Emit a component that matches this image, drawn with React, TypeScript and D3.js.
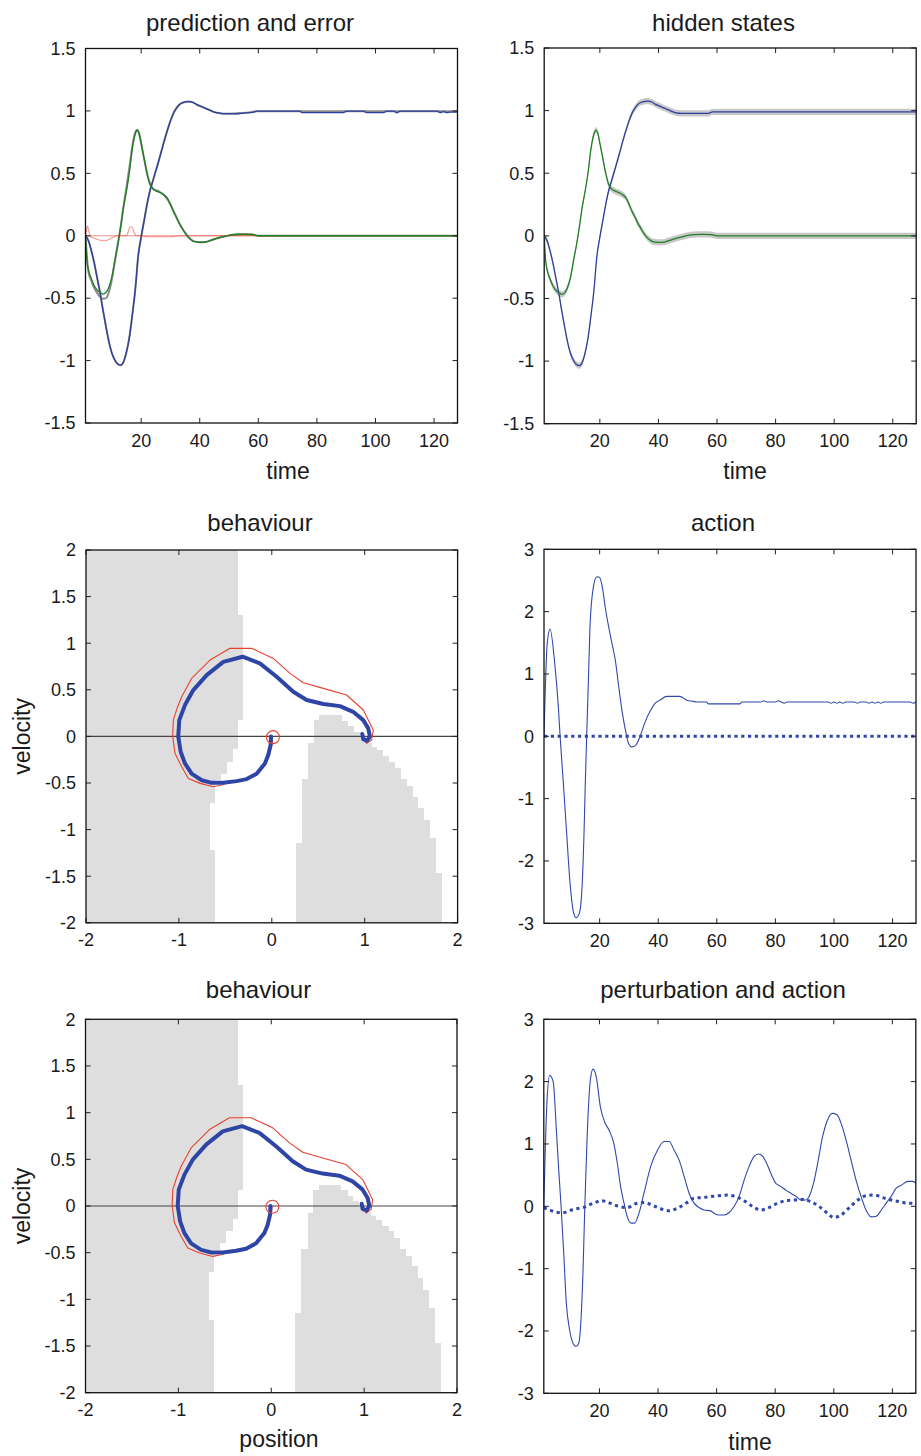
import React from 'react';
import * as d3 from 'd3';

type P = [number, number];

// ---------- tick values ----------
const timeTicks = [20, 40, 60, 80, 100, 120];
const stateTicks = [-1.5, -1, -0.5, 0, 0.5, 1, 1.5];
const actionTicks = [-3, -2, -1, 0, 1, 2, 3];
const phaseXTicks = [-2, -1, 0, 1, 2];
const phaseYTicks = [-2, -1.5, -1, -0.5, 0, 0.5, 1, 1.5, 2];

// ---------- prediction / hidden states ----------
const posEarly: P[] = [
  [1, 0], [2, -0.04], [3, -0.12], [4, -0.22], [5, -0.34], [6, -0.46], [7, -0.6], [8, -0.73], [9, -0.85],
  [10, -0.94], [11, -0.995], [12, -1.027], [13, -1.037], [14, -1.01], [15, -0.93], [16, -0.81], [17, -0.63],
  [18, -0.43], [19, -0.16], [20, -0.01], [21, 0.12], [22, 0.25], [23, 0.36], [24, 0.44], [25, 0.52], [26, 0.6],
  [27, 0.685], [28, 0.77], [29, 0.848], [30, 0.92], [31, 0.98], [32, 1.02], [33, 1.05], [34, 1.065], [35, 1.072],
  [36, 1.075], [37, 1.073], [38, 1.065], [39, 1.05], [40, 1.04], [41, 1.03], [42, 1.02], [43, 1.01], [44, 1.0], [45, 0.99],
];
const predPosTail: P[] = [
  [46, 0.985], [48, 0.978], [52, 0.977], [54, 0.98], [56, 0.985], [58, 0.988], [59.5, 0.998], [74, 0.998],
  [75, 0.987], [89, 0.987], [90.2, 0.998], [95.9, 0.998], [97, 0.987], [102.7, 0.987], [103.9, 0.998],
  [106.2, 0.998], [107.3, 0.985], [108.4, 0.998], [121, 0.998], [122.1, 0.987], [123.2, 0.995], [124.4, 0.987],
  [125.5, 0.99], [128, 0.99],
];
const responsePosTail: P[] = [[46, 0.985], [48, 0.978], [56, 0.985], [60, 0.998], [128, 0.998]];
const hiddenPosTail: P[] = [[46, 0.982], [48, 0.978], [57, 0.978], [58.5, 0.99], [128, 0.99]];

const velEarly: P[] = [
  [1, 0], [1.5, -0.2], [2, -0.27], [3, -0.345], [4, -0.4], [5, -0.435], [6, -0.456], [7, -0.467], [8, -0.455],
  [9, -0.41], [10, -0.33], [11, -0.2], [12, -0.075], [13, 0.07], [14, 0.233], [15, 0.36], [16, 0.51], [17, 0.7],
  [18, 0.815], [18.7, 0.845], [19.3, 0.82], [20, 0.74], [21, 0.62], [22, 0.5], [23, 0.41], [24, 0.375], [25, 0.36],
  [26, 0.35], [27, 0.34], [28, 0.325], [29, 0.3], [30, 0.25], [31, 0.195], [32, 0.15], [33, 0.1], [34, 0.06],
  [35, 0.02], [36, -0.01], [37, -0.032], [38, -0.046], [40, -0.052], [42, -0.05], [44, -0.035], [46, -0.02],
  [48, -0.008], [50, 0.003], [52, 0.01], [55, 0.012], [58, 0.01], [60, 0], [128, 0],
];
const responseVel: P[] = [
  [1, 0], [2, -0.29], [3, -0.36], [4, -0.42], [5, -0.46], [6, -0.49], [7, -0.505], [8, -0.5], [9, -0.45],
  [10, -0.35], [11, -0.21], [12, -0.07], [13, 0.07], [14, 0.24], [15, 0.39], [16, 0.55], [17, 0.72], [18, 0.83],
  [18.7, 0.85], [19.3, 0.82], [20, 0.74], [21, 0.62], [22, 0.5], [23, 0.42], [24, 0.38], [25, 0.365], [26, 0.355],
  [27, 0.34], [28, 0.32], [29, 0.29], [30, 0.25], [31, 0.2], [32, 0.15], [33, 0.1], [34, 0.06], [35, 0.025],
  [36, -0.005], [37, -0.03], [38, -0.045], [40, -0.052], [42, -0.05], [44, -0.035], [46, -0.02], [48, -0.008],
  [50, 0.003], [52, 0.01], [55, 0.012], [58, 0.01], [60, 0], [128, 0],
];
const errorA: P[] = [
  [1, 0], [1.4, 0.05], [1.7, 0.078], [2.2, 0.03], [2.8, 0], [15, 0], [15.7, 0.04], [16.2, 0.07], [16.9, 0.07],
  [17.6, 0.03], [18.3, 0], [128, 0],
];
const errorB: P[] = [
  [1, 0], [3, -0.01], [5, -0.028], [6.5, -0.038], [7.7, -0.04], [9, -0.03], [10.5, -0.012], [12, 0], [20, 0],
  [22, -0.008], [30, -0.008], [33, 0], [128, 0],
];
const hiddenCI = 0.025;

const predPos: P[] = [...posEarly, ...predPosTail];
const responsePos: P[] = [...posEarly, ...responsePosTail];
const hiddenPos: P[] = [...posEarly, ...hiddenPosTail];
const predVel: P[] = velEarly;
const hiddenVel: P[] = velEarly;

// ---------- action ----------
const action1: P[] = [
  [1, 0], [2.1, 1.49], [3.05, 1.72], [4.76, 1.12], [5.9, 0.47], [6.5, 0], [7.6, -0.75], [8.74, -1.56],
  [9.9, -2.36], [11, -2.81], [11.9, -2.91], [13.06, -2.84], [14, -2.41], [14.66, -1.56], [15.1, -0.75],
  [15.57, 0], [16.13, 0.85], [16.7, 1.76], [17.84, 2.39], [19, 2.56], [19.9, 2.55], [21, 2.37], [21.9, 2.07],
  [23.1, 1.75], [24.2, 1.49], [25.35, 1.22], [26.5, 0.8], [27.6, 0.42], [28.8, 0.1], [29.9, -0.12], [31, -0.17],
  [32.2, -0.15], [33.8, 0], [35.6, 0.24], [37.2, 0.4], [38.9, 0.53], [40.6, 0.58], [42.9, 0.64], [47.4, 0.64],
  [49.7, 0.58], [52, 0.56], [53.1, 0.55], [56.5, 0.55], [57.1, 0.52], [67.9, 0.52], [68.5, 0.55], [75, 0.55],
  [76, 0.57], [77, 0.55], [80, 0.55], [81, 0.57], [82, 0.55], [83, 0.53], [84, 0.55], [98, 0.55], [99, 0.53],
  [100, 0.55], [101, 0.53], [102, 0.55], [103, 0.53], [104, 0.55], [107, 0.55], [108, 0.53], [109, 0.55],
  [111, 0.55], [112, 0.53], [113, 0.55], [114, 0.53], [115, 0.55], [116, 0.53], [117, 0.55], [126, 0.55],
  [127, 0.53], [128, 0.55],
];
const perturbation1: P[] = [[1, 0], [128, 0]];

const action2: P[] = [
  [1, 0], [2.05, 1.65], [3, 2.1], [4.2, 2.0], [5.3, 1.22], [6.1, 0.58], [6.9, 0], [7.8, -0.75], [8.7, -1.56],
  [9.8, -1.98], [11, -2.2], [12, -2.25], [12.9, -2.2], [13.7, -1.82], [14.4, -1.02], [15, 0], [15.8, 1.12],
  [16.9, 2.03], [17.8, 2.2], [18.9, 2.08], [20.3, 1.6], [21.7, 1.36], [23.3, 1.22], [24.9, 1.01], [26.1, 0.69],
  [27.2, 0.32], [28.4, 0.05], [29.5, -0.17], [30.9, -0.27], [32, -0.27], [33.5, -0.11], [35.2, 0.21],
  [37.5, 0.64], [39.8, 0.9], [42.1, 1.04], [43.8, 1.04], [45.5, 0.9], [47.2, 0.74], [48.9, 0.48], [50.6, 0.21],
  [52.3, 0.05], [54, -0.02], [55.7, -0.06], [57.8, -0.07], [59.1, -0.11], [60.8, -0.14], [62.6, -0.14],
  [64.3, -0.1], [66, 0], [67.7, 0.16], [69.4, 0.42], [71.1, 0.64], [72.8, 0.8], [74.3, 0.84], [75.6, 0.81],
  [76.8, 0.72], [78.5, 0.53], [80.2, 0.37], [81.9, 0.32], [83.6, 0.26], [85.3, 0.21], [87.1, 0.16], [88.8, 0.1],
  [90.5, 0.1], [91.6, 0.16], [93.1, 0.37], [94.5, 0.69], [96.2, 1.12], [97.9, 1.39], [99.6, 1.49], [101.1, 1.47],
  [102.5, 1.33], [104.2, 1.06], [105.9, 0.74], [107.6, 0.42], [109.3, 0.16], [111, -0.06], [112.8, -0.17],
  [114.5, -0.16], [116.2, -0.06], [117.9, 0.05], [119.6, 0.16], [121.3, 0.29], [123.1, 0.34], [125.3, 0.4],
  [127, 0.4], [128, 0.37],
];
const perturbation2: P[] = [
  [1, -0.02], [3, -0.06], [6.4, -0.1], [8, -0.1], [11, -0.05], [14.5, -0.02], [17.9, 0.05], [20.8, 0.09],
  [23.6, 0.05], [26.5, 0.0], [29.5, -0.02], [32.3, 0.04], [35.2, 0.06], [38, 0.02], [40.9, -0.04], [43.8, -0.07],
  [46.6, -0.03], [49.5, 0.05], [52.3, 0.13], [55.1, 0.14], [58, 0.155], [60.8, 0.17], [63.7, 0.18], [66.5, 0.155],
  [69.4, 0.09], [72.2, 0.0], [75.1, -0.06], [77.9, -0.02], [80.8, 0.05], [83.6, 0.09], [86.4, 0.1], [89.3, 0.11],
  [92.1, 0.075], [94.9, 0.0], [97.8, -0.11], [100, -0.18], [102.5, -0.14], [105.3, -0.02], [108.2, 0.1],
  [111, 0.17], [113.9, 0.18], [116.7, 0.14], [119.6, 0.1], [122.4, 0.075], [125.3, 0.05], [128, 0.05],
];

// ---------- behaviour (phase plane) ----------
const trajectory: P[] = [
  [-0.009, 0.0], [-0.012, -0.09], [-0.038, -0.2], [-0.074, -0.29], [-0.163, -0.4], [-0.271, -0.458],
  [-0.378, -0.48], [-0.522, -0.498], [-0.647, -0.498], [-0.755, -0.47], [-0.863, -0.4], [-0.935, -0.29],
  [-0.981, -0.165], [-1.007, 0.0], [-0.996, 0.175], [-0.935, 0.336], [-0.845, 0.497], [-0.701, 0.658],
  [-0.522, 0.8], [-0.314, 0.855], [-0.128, 0.783], [0.052, 0.64], [0.231, 0.479], [0.375, 0.39], [0.554, 0.347],
  [0.733, 0.325], [0.876, 0.264], [0.984, 0.175], [1.038, 0.086], [1.056, 0.0], [1.027, -0.047], [0.984, -0.03],
  [0.974, 0.025],
];
const priorTrajectory: P[] = [
  [0.01, 0], [0.0, -0.09], [-0.03, -0.2], [-0.07, -0.29], [-0.16, -0.4], [-0.27, -0.458], [-0.414, -0.479],
  [-0.54, -0.522], [-0.63, -0.54], [-0.772, -0.504], [-0.898, -0.451], [-0.97, -0.326], [-1.042, -0.18],
  [-1.067, 0], [-1.06, 0.175], [-1.02, 0.3], [-0.97, 0.425], [-0.863, 0.622], [-0.665, 0.819], [-0.45, 0.945],
  [-0.217, 0.945], [0.016, 0.837], [0.196, 0.676], [0.339, 0.576], [0.554, 0.515], [0.805, 0.444], [0.985, 0.283],
  [1.092, 0.068], [1.075, -0.039], [1.021, -0.075], [0.985, -0.021], [0.99, 0.0],
];
const startPoint: P = [0.012, -0.008];

// left grey region: rows from top (velocity boundaries) and right edge (position)
const leftRowTop = [2, 1.3, 0.175, -0.14, -0.27, -0.4, -0.47, -0.71, -1.22];
const leftRowEdge = [-0.361, -0.307, -0.361, -0.415, -0.486, -0.551, -0.612, -0.666, -0.612];
// right grey region: columns (left position edge, top velocity); last entry closes the staircase
const rightColLeft = [0.26, 0.321, 0.392, 0.453, 0.51, 0.751, 0.823, 0.884, 0.948, 1.013, 1.074, 1.128, 1.192,
  1.264, 1.325, 1.386, 1.451, 1.515, 1.576, 1.637, 1.702, 1.766, 1.827];
const rightColTop = [-1.148, -0.462, -0.075, 0.175, 0.229, 0.168, 0.11, 0.05, -0.011, -0.068, -0.111, -0.147,
  -0.211, -0.272, -0.344, -0.462, -0.533, -0.648, -0.773, -0.898, -1.095, -1.471, -1.471];

// ---------- styling ----------
const FONT = "'Liberation Sans', Arial, Helvetica, sans-serif";
const TXT = '#1a1a1a';
const BLUE = '#2c3f9e';
const GREEN = '#1f7f22';
const ABLUE = '#2f47ae';
const TBLUE = '#2e45a6';
const RED = '#e8402f';
const GREY = '#dedede';

type Frame = { x0: number; x1: number; y0: number; y1: number };
const F1: Frame = { x0: 85.5, x1: 457.5, y0: 48.5, y1: 423 };
const F2: Frame = { x0: 544.2, x1: 916.2, y0: 48, y1: 423.7 };
const F3: Frame = { x0: 86, x1: 457.6, y0: 550, y1: 922.8 };
const F4: Frame = { x0: 544, x1: 916, y0: 549.3, y1: 923.3 };
const F5: Frame = { x0: 85.5, x1: 457, y0: 1019.3, y1: 1392.7 };
const F6: Frame = { x0: 543.8, x1: 915.8, y0: 1019.3, y1: 1393.3 };

const fmt = (v: number) => String(v);

function Axes({ f, xs, ys, xt, yt }: { f: Frame; xs: any; ys: any; xt: number[]; yt: number[] }) {
  const tl = 5;
  return (
    <g>
      {xt.map((v) => (
        <g key={'x' + v}>
          <line x1={xs(v)} x2={xs(v)} y1={f.y1} y2={f.y1 - tl} stroke="#222" strokeWidth={1} />
          <line x1={xs(v)} x2={xs(v)} y1={f.y0} y2={f.y0 + tl} stroke="#222" strokeWidth={1} />
          <text x={xs(v)} y={f.y1 + 23.5} textAnchor="middle" fontSize={18} fill={TXT} fontFamily={FONT}>
            {fmt(v)}
          </text>
        </g>
      ))}
      {yt.map((v) => (
        <g key={'y' + v}>
          <line x1={f.x0} x2={f.x0 + tl} y1={ys(v)} y2={ys(v)} stroke="#222" strokeWidth={1} />
          <line x1={f.x1} x2={f.x1 - tl} y1={ys(v)} y2={ys(v)} stroke="#222" strokeWidth={1} />
          <text x={f.x0 - 10} y={ys(v) + 6.3} textAnchor="end" fontSize={18} fill={TXT} fontFamily={FONT}>
            {fmt(v)}
          </text>
        </g>
      ))}
      <rect x={f.x0} y={f.y0} width={f.x1 - f.x0} height={f.y1 - f.y0} fill="none" stroke="#111" strokeWidth={1.3} />
    </g>
  );
}

function Title({ x, y, text }: { x: number; y: number; text: string }) {
  return (
    <text x={x} y={y} textAnchor="middle" fontSize={24} fill={TXT} fontFamily={FONT}>
      {text}
    </text>
  );
}
function Label({ x, y, text, rotate }: { x: number; y: number; text: string; rotate?: boolean }) {
  return (
    <text
      x={rotate ? 0 : x}
      y={rotate ? 0 : y}
      transform={rotate ? `translate(${x},${y}) rotate(-90)` : undefined}
      textAnchor="middle"
      fontSize={23}
      fill={TXT}
      fontFamily={FONT}
    >
      {text}
    </text>
  );
}

function timeScale(f: Frame) {
  return d3.scaleLinear().domain([1, 128]).range([f.x0, f.x1]);
}

function PredictionPanel() {
  const f = F1;
  const xs = timeScale(f);
  const ys = d3.scaleLinear().domain([-1.5, 1.5]).range([f.y1, f.y0]);
  const line = d3.line<P>().x((d) => xs(d[0])).y((d) => ys(d[1])).curve(d3.curveMonotoneX);
  return (
    <g>
      <clipPath id="c1"><rect x={f.x0} y={f.y0} width={f.x1 - f.x0} height={f.y1 - f.y0} /></clipPath>
      <g clipPath="url(#c1)" fill="none">
        <path d={line(responsePos) || ''} stroke="#8a8a8a" strokeWidth={2} />
        <path d={line(responseVel) || ''} stroke="#8a8a8a" strokeWidth={2} />
        <path d={line(errorB) || ''} stroke={RED} strokeOpacity={0.55} strokeWidth={1.1} />
        <path d={line(errorA) || ''} stroke={RED} strokeOpacity={0.55} strokeWidth={1.1} />
        <path d={line(predPos) || ''} stroke={BLUE} strokeWidth={1.3} />
        <path d={line(predVel) || ''} stroke={GREEN} strokeWidth={1.3} />
      </g>
      <Axes f={f} xs={xs} ys={ys} xt={timeTicks} yt={stateTicks} />
      <Title x={250} y={31} text="prediction and error" />
      <Label x={288} y={479} text="time" />
    </g>
  );
}

function HiddenPanel() {
  const f = F2;
  const xs = timeScale(f);
  const ys = d3.scaleLinear().domain([-1.5, 1.5]).range([f.y1, f.y0]);
  const line = d3.line<P>().x((d) => xs(d[0])).y((d) => ys(d[1])).curve(d3.curveMonotoneX);
  const band = d3
    .area<P>()
    .x((d) => xs(d[0]))
    .y0((d) => ys(d[1] - hiddenCI))
    .y1((d) => ys(d[1] + hiddenCI))
    .curve(d3.curveMonotoneX);
  return (
    <g>
      <clipPath id="c2"><rect x={f.x0} y={f.y0} width={f.x1 - f.x0} height={f.y1 - f.y0} /></clipPath>
      <g clipPath="url(#c2)">
        <path d={band(hiddenPos) || ''} fill="#c8c8c8" />
        <path d={band(hiddenVel) || ''} fill="#c8c8c8" />
        <path d={line(hiddenPos) || ''} fill="none" stroke={BLUE} strokeWidth={1.3} />
        <path d={line(hiddenVel) || ''} fill="none" stroke={GREEN} strokeWidth={1.3} />
      </g>
      <Axes f={f} xs={xs} ys={ys} xt={timeTicks} yt={stateTicks} />
      <Title x={723.5} y={31} text="hidden states" />
      <Label x={745} y={478.5} text="time" />
    </g>
  );
}

function BehaviourPanel({ f, id, titleX, titleY, showX }: { f: Frame; id: string; titleX: number; titleY: number; showX: boolean }) {
  const xs = d3.scaleLinear().domain([-2, 2]).range([f.x0, f.x1]);
  const ys = d3.scaleLinear().domain([-2, 2]).range([f.y1, f.y0]);
  const line = d3.line<P>().x((d) => xs(d[0])).y((d) => ys(d[1])).curve(d3.curveLinear);
  // left region polygon
  const leftPts: P[] = [[-2, 2]];
  leftRowEdge.forEach((e, i) => {
    const top = leftRowTop[i];
    const bottom = i + 1 < leftRowTop.length ? leftRowTop[i + 1] : -2;
    leftPts.push([e, top], [e, bottom]);
  });
  leftPts.push([-2, -2]);
  // right region polygon
  const rightPts: P[] = [[rightColLeft[0], -2]];
  rightColLeft.forEach((x, i) => {
    if (i < rightColLeft.length - 1) {
      rightPts.push([x, rightColTop[i]], [rightColLeft[i + 1], rightColTop[i]]);
    }
  });
  rightPts.push([rightColLeft[rightColLeft.length - 1], -2]);
  const poly = d3.line<P>().x((d) => xs(d[0])).y((d) => ys(d[1]));
  const vy = (f.y1 - f.y0) / 4;
  return (
    <g>
      <clipPath id={id}><rect x={f.x0} y={f.y0} width={f.x1 - f.x0} height={f.y1 - f.y0} /></clipPath>
      <g clipPath={`url(#${id})`}>
        <path d={(poly(leftPts) || '') + 'Z'} fill={GREY} shapeRendering="crispEdges" />
        <path d={(poly(rightPts) || '') + 'Z'} fill={GREY} shapeRendering="crispEdges" />
        <line x1={f.x0} x2={f.x1} y1={ys(0)} y2={ys(0)} stroke="#444" strokeWidth={1.1} />
        <path d={line(priorTrajectory) || ''} fill="none" stroke={RED} strokeWidth={1.1} strokeLinejoin="round" />
        <path d={line(trajectory) || ''} fill="none" stroke={TBLUE} strokeWidth={4} strokeLinejoin="round" strokeLinecap="round" />
        <circle cx={xs(startPoint[0])} cy={ys(startPoint[1])} r={vy * 0.07} fill="none" stroke={RED} strokeWidth={1.1} />
      </g>
      <Axes f={f} xs={xs} ys={ys} xt={phaseXTicks} yt={phaseYTicks} />
      <Title x={titleX} y={titleY} text="behaviour" />
      <Label x={30} y={(f.y0 + f.y1) / 2} text="velocity" rotate />
      {showX && <Label x={279} y={1446.5} text="position" />}
    </g>
  );
}

function ActionPanel({ f, id, action, perturbation, title, titleY, showTime }: { f: Frame; id: string; action: P[]; perturbation: P[]; title: string; titleY: number; showTime: boolean }) {
  const xs = timeScale(f);
  const ys = d3.scaleLinear().domain([-3, 3]).range([f.y1, f.y0]);
  const line = d3.line<P>().x((d) => xs(d[0])).y((d) => ys(d[1])).curve(d3.curveMonotoneX);
  return (
    <g>
      <clipPath id={id}><rect x={f.x0} y={f.y0} width={f.x1 - f.x0} height={f.y1 - f.y0} /></clipPath>
      <g clipPath={`url(#${id})`} fill="none">
        <path d={line(perturbation) || ''} stroke={ABLUE} strokeWidth={3} strokeDasharray="3.2 3.6" />
        <path d={line(action) || ''} stroke={ABLUE} strokeWidth={1.1} />
      </g>
      <Axes f={f} xs={xs} ys={ys} xt={timeTicks} yt={actionTicks} />
      <Title x={723} y={titleY} text={title} />
      {showTime && <Label x={750} y={1450} text="time" />}
    </g>
  );
}

export default function App() {
  return (
    <svg
      width={921}
      height={1456}
      viewBox="0 0 921 1456"
      style={{ position: 'absolute', left: 0, top: 0, background: '#fff', display: 'block' }}
    >
      <rect x={0} y={0} width={921} height={1456} fill="#fff" />
      <PredictionPanel />
      <HiddenPanel />
      <BehaviourPanel f={F3} id="c3" titleX={260} titleY={531} showX={false} />
      <ActionPanel f={F4} id="c4" action={action1} perturbation={perturbation1} title="action" titleY={531} showTime={false} />
      <BehaviourPanel f={F5} id="c5" titleX={258.5} titleY={997.5} showX={true} />
      <ActionPanel f={F6} id="c6" action={action2} perturbation={perturbation2} title="perturbation and action" titleY={997.5} showTime={true} />
    </svg>
  );
}
